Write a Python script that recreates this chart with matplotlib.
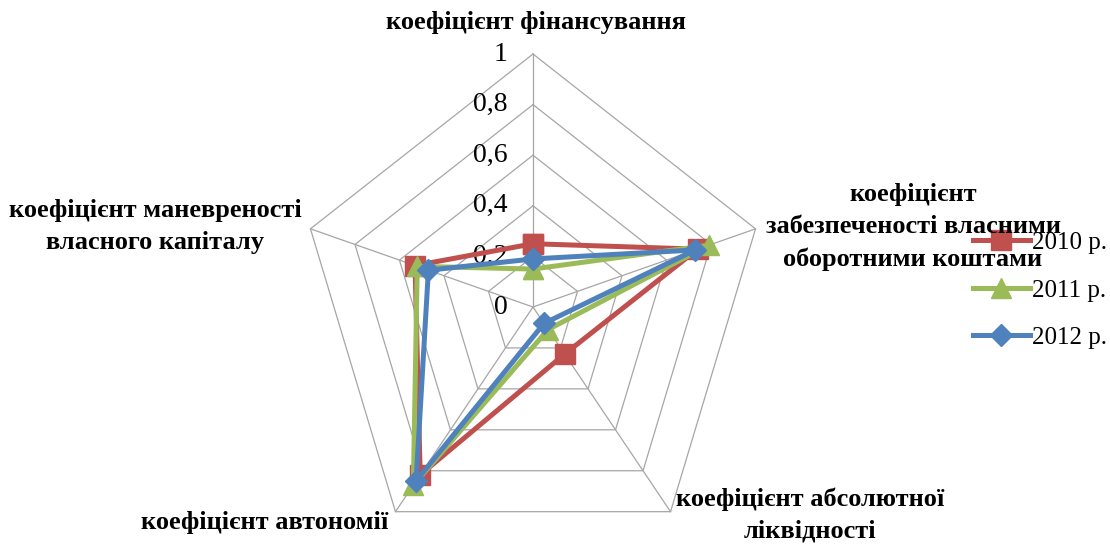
#!/usr/bin/env python3
"""Radar chart of financial-stability ratios, 2010-2012."""
import numpy as np
import matplotlib
matplotlib.use("Agg")
import matplotlib.pyplot as plt

# --- data ---------------------------------------------------------------------
categories = [
    "коефіцієнт фінансування",
    "коефіцієнт\nзабезпеченості власними\nоборотними коштами",
    "коефіцієнт абсолютної\nліквідності",
    "коефіцієнт автономії",
    "коефіцієнт маневреності\nвласного капіталу",
]
years = ["2010 р.", "2011 р.", "2012 р."]
v2010 = [0.25, 0.74, 0.23, 0.82, 0.53]
v2011 = [0.15, 0.79, 0.11, 0.87, 0.52]
v2012 = [0.19, 0.73, 0.08, 0.85, 0.47]
ticks = [0, 0.2, 0.4, 0.6, 0.8, 1.0]
tick_labels = ["0", "0,2", "0,4", "0,6", "0,8", "1"]

colors = ["#C0504D", "#9BBB59", "#4F81BD"]
markers = ["s", "^", "D"]
msizes = [15, 14, 11]

W, H = 1110, 549
CX, CY = 533, 307          # centre in pixels (from top)
UX, UY = 234, 253          # pixels per unit radius (chart is squeezed horizontally)

fig = plt.figure(figsize=(W / 100, H / 100), dpi=100)
ax = fig.add_axes([0, 0, 1, 1])
ax.set_xlim(-CX / UX, (W - CX) / UX)
ax.set_ylim(-(H - CY) / UY, CY / UY)
ax.axis("off")

n = len(categories)
ang = np.pi / 2 - 2 * np.pi * np.arange(n) / n


def xy(vals):
    r = np.asarray(vals, dtype=float)
    x = r * np.cos(ang)
    y = r * np.sin(ang)
    return np.append(x, x[0]), np.append(y, y[0])


# grid
grid_c = "#A6A6A6"
for t in ticks[1:]:
    gx, gy = xy([t] * n)
    ax.plot(gx, gy, color=grid_c, lw=0.9, zorder=1)
for a in ang:
    ax.plot([0, np.cos(a)], [0, np.sin(a)], color=grid_c, lw=0.9, zorder=1)

# radial tick labels
for t, lab in zip(ticks, tick_labels):
    ax.text(-0.11, t, lab, ha="right", va="center", fontsize=20,
            family="Liberation Serif", color="black", zorder=2)

# series
for vals, name, c, m, ms, z in zip([v2010, v2011, v2012], years, colors,
                                   markers, msizes, [3, 4, 5]):
    sx, sy = xy(vals)
    ax.plot(sx, sy, color=c, lw=3.6, marker=m, ms=ms, mec=c, mfc=c,
            label=name, zorder=z)

# category labels (pixel positions converted to data units)
label_pos = [
    (536, 22),
    (913, 227),
    (810, 515),
    (265, 522),
    (155, 226),
]
for text, (px, py) in zip(categories, label_pos):
    ax.text((px - CX) / UX, (CY - py) / UY, text, ha="center", va="center",
            fontsize=19, fontweight="bold", family="Liberation Serif",
            linespacing=1.5, zorder=6)

leg = ax.legend(loc="upper left", bbox_to_anchor=(960 / W, 1 - 219 / H),
                bbox_transform=fig.transFigure, frameon=False,
                prop={"family": "Liberation Serif", "size": 18},
                handlelength=2.3, handletextpad=0.1, labelspacing=1.0,
                borderpad=0)

fig.savefig("out.png", dpi=100)
